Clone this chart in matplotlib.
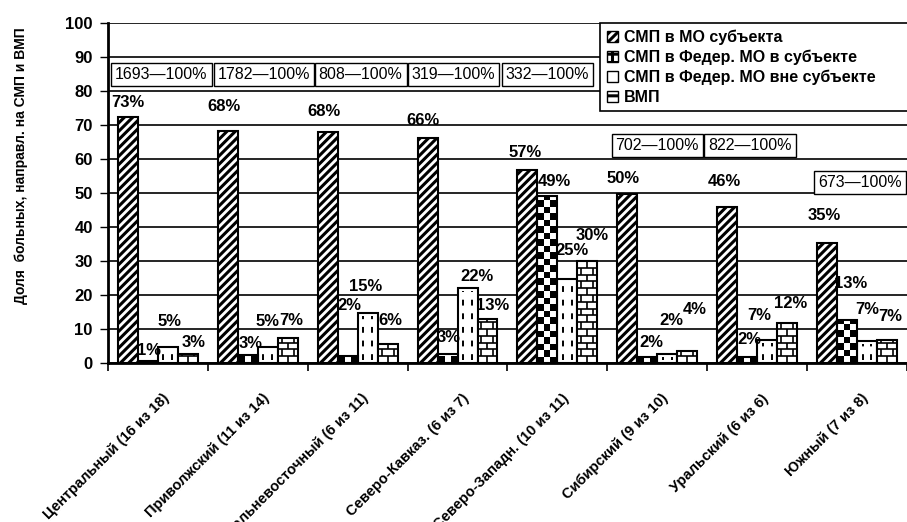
import numpy as np
import matplotlib
matplotlib.use('Agg')
import matplotlib.pyplot as plt
import matplotlib.transforms as mtransforms
from matplotlib.patches import Patch
from matplotlib.collections import LineCollection

plt.rcParams['font.family'] = ['Liberation Sans', 'DejaVu Sans']

regions = ['Центральный (16 из 18)', 'Приволжский (11 из 14)', 'Дальневосточный (6 из 11)',
           'Северо-Кавказ. (6 из 7)', 'Северо-Западн. (10 из 11)', 'Сибирский (9 из 10)',
           'Уральский (6 из 6)', 'Южный (7 из 8)']
totals = [1693, 1782, 808, 319, 332, 702, 822, 673]

# bar heights
smp_mo = [72.5, 68.2, 67.9, 66.2, 56.8, 49.7, 46.0, 35.3]
smp_fed_in = [0.6, 2.4, 2.1, 2.6, 49.1, 1.8, 1.8, 12.6]
smp_fed_out = [4.7, 4.7, 14.7, 22.0, 24.7, 2.6, 6.8, 6.5]
vmp = [2.6, 7.3, 5.6, 13.0, 30.0, 3.5, 11.8, 6.8]

# printed percentages
pct_mo = [73, 68, 68, 66, 57, 50, 46, 35]
pct_fed_in = [1, 3, 2, 3, 49, 2, 2, 13]
pct_fed_out = [5, 5, 15, 22, 25, 2, 7, 7]
pct_vmp = [3, 7, 6, 13, 30, 4, 12, 7]

series_names = ['СМП в МО субъекта', 'СМП в Федер. МО в субъекте',
                'СМП в Федер. МО вне субъекте', 'ВМП']

# label placement (offsets from bar top / bar centre), as in the source
lab_dx = [[0, -0.04, -0.04, -0.05, -0.02, -0.04, -0.03, -0.03],
          [0.01, 0.03, 0.02, 0.01, 0.07, 0.045, 0.02, 0.04],
          [0.02, 0, -0.02, 0.09, 0.05, 0.04, -0.08, 0],
          [0.06, 0.04, 0.03, 0.05, 0.05, 0.08, 0.03, 0.03]]
lab_dy = [[4, 7.3, 6, 5, 5, 4.7, 7.5, 8.2],
          [3.1, 3.4, 14.8, 4.9, 4.2, 4.2, 5, 10.7],
          [7.6, 7.6, 7.9, 3.3, 8.5, 9.9, 7.2, 9.1],
          [3.3, 5.3, 7, 3.8, 7.6, 12.1, 5.6, 7]]
box_y = [85, 85, 85, 85, 85, 64, 64, 53]
box_dx = [0.035, 0.06, 0.03, -0.04, -0.1, 0, -0.07, 0.03]

fig = plt.figure(figsize=(9.07, 5.22), dpi=100)
ax = fig.add_axes([0.119, 0.3046, 0.881, 0.6513])

x = np.arange(len(regions))
w = 0.2
offs = [-0.3, -0.1, 0.1, 0.3]
heights = [smp_mo, smp_fed_in, smp_fed_out, vmp]
pcts = [pct_mo, pct_fed_in, pct_fed_out, pct_vmp]

plt.rcParams['hatch.linewidth'] = 2.2
b1 = ax.bar(x + offs[0], smp_mo, w, facecolor='white', edgecolor='black', lw=1.5, hatch='////', zorder=3)
b2 = ax.bar(x + offs[1], smp_fed_in, w, facecolor='none', edgecolor='black', lw=1.5, zorder=3)
b3 = ax.bar(x + offs[2], smp_fed_out, w, facecolor='white', edgecolor='black', lw=1.5, zorder=2)
b4 = ax.bar(x + offs[3], vmp, w, facecolor='white', edgecolor='black', lw=1.5, zorder=2)

# checkerboard fill for the second series
for r in b2:
    x0, h = r.get_x(), r.get_height()
    rows = max(1, int(round(h * 3.4 / 6.5)))
    cols = 3
    board = (np.add.outer(np.arange(rows), np.arange(cols)) % 2).astype(float)
    im = ax.imshow(board, cmap='gray', extent=(x0, x0 + w, 0, rows * 6.5 / 3.4),
                   origin='lower', aspect='auto', interpolation='nearest', zorder=2.5)
    im.set_clip_path(r)

# dashed verticals for the third series
for r in b3:
    x0, h = r.get_x(), r.get_height()
    for f in (0.28, 0.72):
        ax.plot([x0 + w * f] * 2, [0.8, h - 0.8], color='black', lw=1.4,
                dashes=(3, 4), zorder=2.5)

# brick fill for the fourth series
for r in b4:
    x0, h = r.get_x(), r.get_height()
    step = 2.0
    segs = []
    ys = np.arange(0, h, step)
    for k, y0 in enumerate(ys):
        if y0 > 0:
            segs.append([(x0, y0), (x0 + w, y0)])
        y1 = min(y0 + step, h)
        xs = [0.5] if k % 2 == 0 else [0.2, 0.8]
        for f in xs:
            segs.append([(x0 + w * f, y0), (x0 + w * f, y1)])
    lc = LineCollection(segs, colors='black', linewidths=1.2, zorder=2.5)
    lc.set_clip_path(r)
    ax.add_collection(lc)

# percentage labels
for s in range(4):
    for i in range(len(regions)):
        ax.text(x[i] + offs[s] + lab_dx[s][i], heights[s][i] + lab_dy[s][i], f'{pcts[s][i]}%',
                ha='center', va='center', fontsize=12, fontweight='bold', zorder=5)

# totals boxes
for i, n in enumerate(totals):
    ax.text(x[i] + box_dx[i], box_y[i], f'{n}—100%', ha='center', va='center', fontsize=11.5,
            bbox=dict(boxstyle='square,pad=0.25', fc='white', ec='black', lw=1), zorder=5)

ax.set_xlim(-0.5, 7.41)
ax.set_ylim(0, 100)
ax.set_yticks(np.arange(0, 101, 10))
ax.yaxis.grid(True, color='black', lw=1.2)
ax.set_axisbelow(True)
ax.tick_params(axis='y', labelsize=12, length=6, width=1, direction='out', pad=5)
for t in ax.get_yticklabels():
    t.set_fontweight('bold')

ax.set_xticks(x)
ax.set_xticklabels(regions, rotation=45, ha='right', va='center', rotation_mode='anchor',
                   fontsize=10.5, fontweight='bold')
ax.tick_params(axis='x', which='major', length=0, pad=24)
ax.set_xticks(np.arange(-0.5, 8, 1), minor=True)
ax.tick_params(axis='x', which='minor', length=6, width=1.2)
shift = mtransforms.ScaledTranslation(0.09, 0, fig.dpi_scale_trans)
for t in ax.get_xticklabels():
    t.set_transform(t.get_transform() + shift)

for sp in ['top', 'right']:
    ax.spines[sp].set_visible(False)
ax.spines['left'].set_linewidth(2)
ax.spines['bottom'].set_linewidth(2)

ax.set_ylabel('Доля  больных, направл. на СМП и ВМП', fontsize=10, fontweight='bold')
ax.yaxis.set_label_coords(-0.1, 0.58)

handles = [Patch(facecolor='white', edgecolor='black', hatch='////'),
           Patch(facecolor='white', edgecolor='black', hatch='++'),
           Patch(facecolor='white', edgecolor='black'),
           Patch(facecolor='white', edgecolor='black', hatch='--')]
leg = ax.legend(handles, series_names, loc='upper left', bbox_to_anchor=(0.616, 0, 0.4, 1.0),
                mode='expand', frameon=True, fancybox=False, edgecolor='black', framealpha=1,
                borderaxespad=0, handlelength=0.7, handleheight=0.7, handletextpad=0.4,
                labelspacing=0.3, borderpad=0.4,
                prop={'size': 11.5, 'weight': 'bold'})
leg.get_frame().set_linewidth(1.2)
leg.set_zorder(6)

fig.savefig('out.png', dpi=100)
